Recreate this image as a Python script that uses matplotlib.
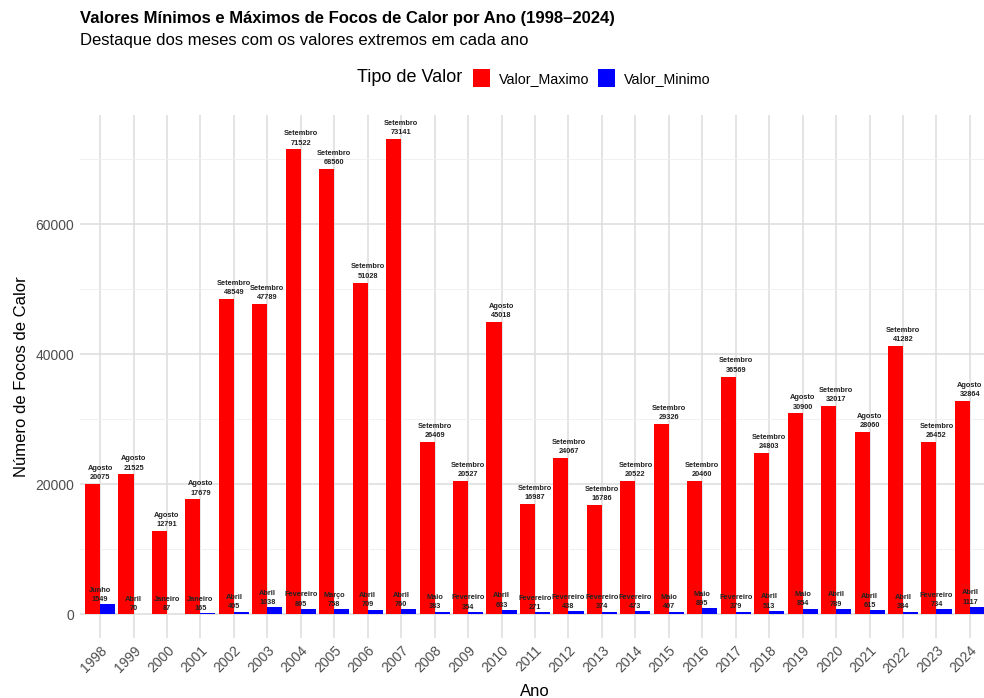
import matplotlib.pyplot as plt
import numpy as np

plt.rcParams['font.family'] = ['Liberation Sans', 'DejaVu Sans']

# data
anos = list(range(1998, 2025))
valor_maximo = [20075, 21525, 12791, 17679, 48549, 47789, 71522, 68560, 51028, 73141,
                26469, 20527, 45018, 16987, 24067, 16786, 20522, 29326, 20460, 36569,
                24803, 30900, 32017, 28060, 41282, 26452, 32864]
mes_maximo = ['Agosto', 'Agosto', 'Agosto', 'Agosto', 'Setembro', 'Setembro', 'Setembro',
              'Setembro', 'Setembro', 'Setembro', 'Setembro', 'Setembro', 'Agosto',
              'Setembro', 'Setembro', 'Setembro', 'Setembro', 'Setembro', 'Setembro',
              'Setembro', 'Setembro', 'Agosto', 'Setembro', 'Agosto', 'Setembro',
              'Setembro', 'Agosto']
valor_minimo = [1549, 70, 87, 165, 405, 1038, 805, 758, 709, 760,
                383, 354, 633, 271, 438, 374, 473, 407, 895, 379,
                513, 854, 789, 615, 384, 734, 1117]
mes_minimo = ['Junho', 'Abril', 'Janeiro', 'Janeiro', 'Abril', 'Abril', 'Fevereiro',
              'Março', 'Abril', 'Abril', 'Maio', 'Fevereiro', 'Abril', 'Fevereiro',
              'Fevereiro', 'Fevereiro', 'Fevereiro', 'Maio', 'Maio', 'Fevereiro',
              'Abril', 'Maio', 'Abril', 'Abril', 'Abril', 'Fevereiro', 'Abril']

fig = plt.figure(figsize=(9.84, 6.98), dpi=100)
ax = fig.add_axes([80 / 984, 60 / 698, 910 / 984, 523 / 698])

x = np.arange(len(anos))
w = 0.45
b1 = ax.bar(x - w / 2, valor_maximo, w, color='#FF0000', zorder=2, label='Valor_Maximo')
b2 = ax.bar(x + w / 2, valor_minimo, w, color='#0000FF', zorder=2, label='Valor_Minimo')

# rotulos (centrados no ano, como no original)
for i in range(len(anos)):
    ax.annotate(f'{mes_maximo[i]}\n{valor_maximo[i]}', (x[i], valor_maximo[i]),
                xytext=(0, 2), textcoords='offset points', ha='center', va='bottom',
                fontsize=5.3, fontweight='bold', color='#222222', linespacing=1.45, zorder=3)
    ax.annotate(f'{mes_minimo[i]}\n{valor_minimo[i]}', (x[i], valor_minimo[i]),
                xytext=(0, 1), textcoords='offset points', ha='center', va='bottom',
                fontsize=5.3, fontweight='bold', color='#222222', linespacing=1.45, zorder=3)

ymax = max(valor_maximo)
ax.set_xlim(-0.6, len(anos) - 0.4)
ax.set_ylim(-0.05 * ymax, 1.05 * ymax)
ax.set_xticks(x)
ax.set_xticklabels([str(a) for a in anos], rotation=45, ha='right', rotation_mode='anchor',
                   fontsize=10, color='#4D4D4D')
ax.set_yticks([0, 20000, 40000, 60000])
ax.set_yticks([10000, 30000, 50000, 70000], minor=True)
ax.tick_params(axis='y', labelsize=10, labelcolor='#4D4D4D')
ax.tick_params(which='both', length=0, pad=4)
ax.grid(True, which='major', color='#DDDDDD', linewidth=1.1, zorder=0)
ax.grid(True, which='minor', axis='y', color='#EFEFEF', linewidth=0.6, zorder=0)
for s in ax.spines.values():
    s.set_visible(False)

ax.set_xlabel('Ano', fontsize=12, labelpad=6)
ax.set_ylabel('Número de Focos de Calor', fontsize=12, labelpad=5)

fig.text(80 / 984, 1 - 18 / 698, 'Valores Mínimos e Máximos de Focos de Calor por Ano (1998–2024)',
         fontsize=12, fontweight='bold', va='center')
fig.text(80 / 984, 1 - 41 / 698, 'Destaque dos meses com os valores extremos em cada ano',
         fontsize=12, va='center')

fig.text(462 / 984, 1 - 78 / 698, 'Tipo de Valor', fontsize=13, ha='right', va='center')
fig.legend(handles=[b1, b2], loc='center left', bbox_to_anchor=(473 / 984, 1 - 78 / 698),
           ncol=2, frameon=False, fontsize=10.3, handlelength=1.2, handleheight=1.5,
           handletextpad=0.6, columnspacing=0.6, borderpad=0, borderaxespad=0)

fig.savefig('out.png', dpi=100)
